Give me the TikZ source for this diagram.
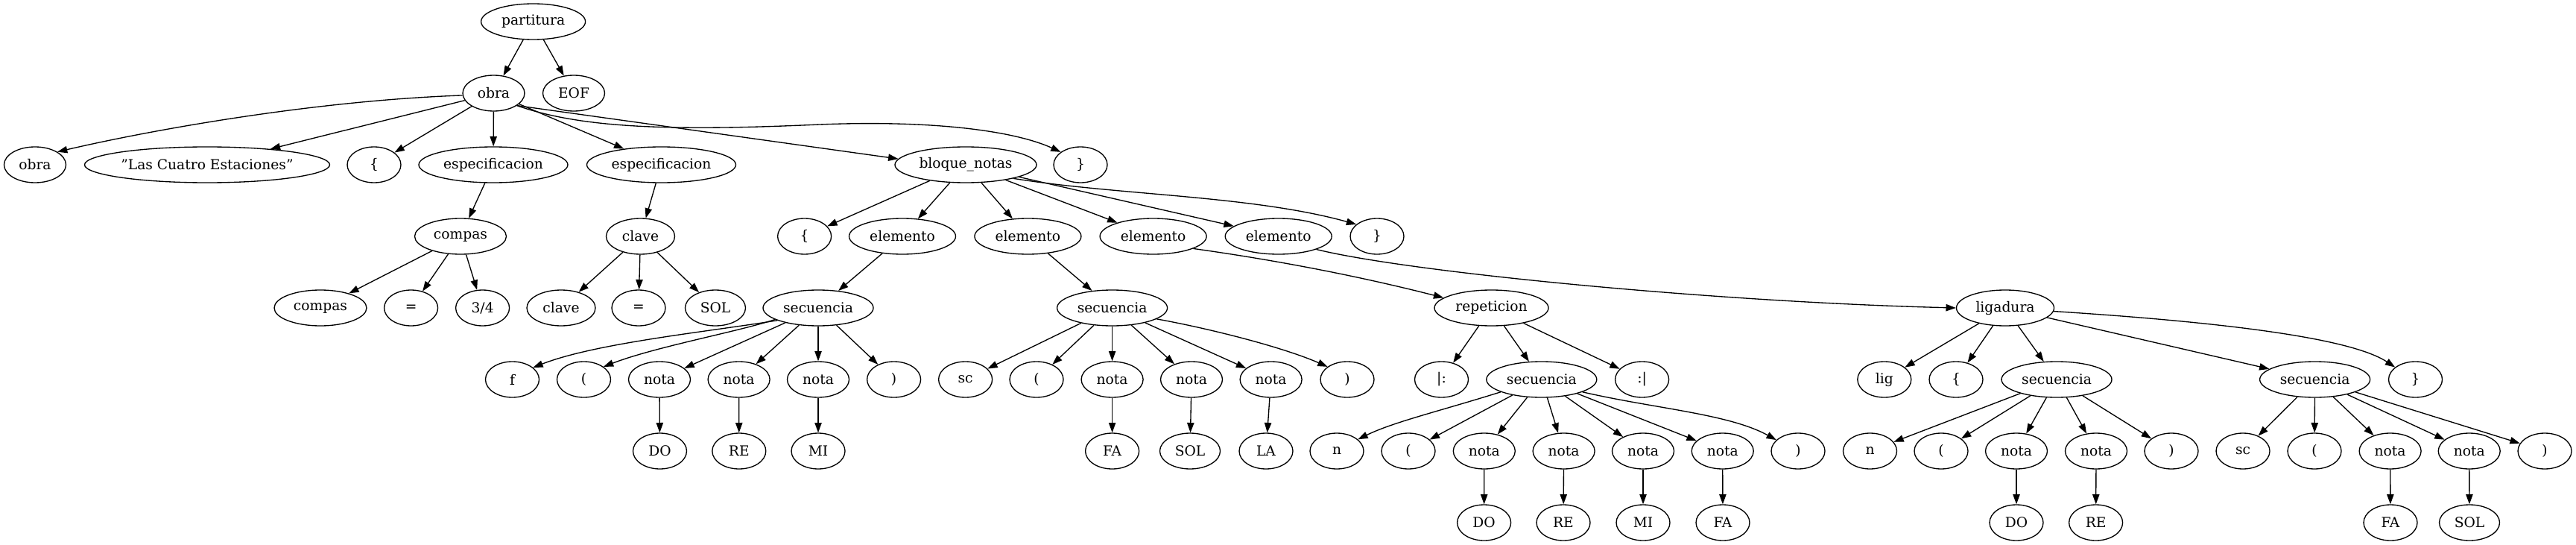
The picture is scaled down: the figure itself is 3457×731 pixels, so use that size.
\documentclass[tikz,border=0pt]{standalone}
\usepackage{fontspec}
\setmainfont{DejaVu Serif}
\usetikzlibrary{shapes.geometric,arrows.meta}
\begin{document}
\begin{tikzpicture}[x=0.75pt,y=-0.75pt,
  nd/.style={draw, ellipse, inner sep=0pt, minimum width=54pt, minimum height=36pt, line width=1pt, font=\fontsize{14pt}{16pt}\selectfont},
  wd/.style={minimum width=#1*0.75pt},
  arr/.style={-{Triangle[length=10pt,width=7pt]}, line width=1pt}]
\useasboundingbox (0,0) rectangle (3457,731);
% row 0
\node[nd,wd=140] (part) at (715.6,29) {partitura};
% row 1
\node[nd,wd=83] (o1) at (662.5,125) {obra};
\node[nd,wd=83] (eof) at (770,125) {EOF};
% row 2
\node[nd,wd=83] (ob2) at (47,221) {obra};
\node[nd,wd=329] (tit) at (278,221) {"Las Cuatro Estaciones"};
\node[nd] (lb2) at (502,221) {\{};
\node[nd,wd=200] (esp1) at (662,221) {especificacion};
\node[nd,wd=200] (esp2) at (887.5,221) {especificacion};
\node[nd,wd=190] (bn) at (1296,221) {bloque\_notas};
\node[nd] (rb2) at (1450,221) {\}};
% row 3
\node[nd,wd=123] (comp3) at (618,317) {compas};
\node[nd,wd=92] (clav3) at (859.5,317) {clave};
\node[nd] (lb3) at (1079.6,317) {\{};
\node[nd,wd=143] (el1) at (1211,317) {elemento};
\node[nd,wd=143] (el2) at (1379.4,317) {elemento};
\node[nd,wd=143] (el3) at (1547.6,317) {elemento};
\node[nd,wd=143] (el4) at (1715.7,317) {elemento};
\node[nd] (rb3) at (1848,317) {\}};
% row 4
\node[nd,wd=124] (comp4) at (430,413) {compas};
\node[nd] (eqa) at (551.6,413) {=};
\node[nd] (tq) at (647.6,413) {3/4};
\node[nd,wd=92] (clav4) at (753,413) {clave};
\node[nd] (eqb) at (857,413) {=};
\node[nd,wd=81] (sol4) at (960,413) {SOL};
\node[nd,wd=148] (s1) at (1098,413) {secuencia};
\node[nd,wd=148] (s2) at (1492.6,413) {secuencia};
\node[nd,wd=153] (rep) at (2001.5,413) {repeticion};
\node[nd,wd=131] (lg) at (2691,413) {ligadura};
% row 5
\node[nd] (f5) at (687.5,509) {f};
\node[nd] (lp5a) at (783.5,509) {(};
\node[nd,wd=83] (n5a) at (885,509) {nota};
\node[nd,wd=83] (n5b) at (991.6,509) {nota};
\node[nd,wd=83] (n5c) at (1098,509) {nota};
\node[nd] (rp5a) at (1199.6,509) {)};
\node[nd] (sc5) at (1295.6,509) {sc};
\node[nd] (lp5b) at (1391,509) {(};
\node[nd,wd=83] (n5d) at (1492.6,509) {nota};
\node[nd,wd=83] (n5e) at (1599,509) {nota};
\node[nd,wd=83] (n5f) at (1705.6,509) {nota};
\node[nd] (rp5b) at (1808,509) {)};
\node[nd] (rs) at (1934.5,509) {|:};
\node[nd,wd=148] (s3) at (2068.8,509) {secuencia};
\node[nd] (re) at (2203.6,509) {:|};
\node[nd] (lig) at (2528.8,509) {lig};
\node[nd] (lb5) at (2625,509) {\{};
\node[nd,wd=148] (s4) at (2760,509) {secuencia};
\node[nd,wd=148] (s5) at (3106.6,509) {secuencia};
\node[nd] (rb5) at (3241.5,509) {\}};
% row 6
\node[nd] (do6) at (885.5,605) {DO};
\node[nd] (re6) at (991.8,605) {RE};
\node[nd] (mi6) at (1098,605) {MI};
\node[nd] (fa6) at (1492.6,605) {FA};
\node[nd,wd=81] (sol6) at (1597,605) {SOL};
\node[nd] (la6) at (1699,605) {LA};
\node[nd] (nna) at (1794,605) {n};
\node[nd] (lp6a) at (1890,605) {(};
\node[nd,wd=83] (n6a) at (1991.8,605) {nota};
\node[nd,wd=83] (n6b) at (2098.6,605) {nota};
\node[nd,wd=83] (n6c) at (2205,605) {nota};
\node[nd,wd=83] (n6d) at (2311.7,605) {nota};
\node[nd] (rp6a) at (2413,605) {)};
\node[nd] (nnb) at (2509.5,605) {n};
\node[nd] (lp6b) at (2605,605) {(};
\node[nd,wd=83] (n6e) at (2706,605) {nota};
\node[nd,wd=83] (n6f) at (2813,605) {nota};
\node[nd] (rp6b) at (2914,605) {)};
\node[nd] (sc6) at (3010,605) {sc};
\node[nd] (lp6c) at (3106,605) {(};
\node[nd,wd=83] (n6g) at (3207.6,605) {nota};
\node[nd,wd=83] (n6h) at (3313.7,605) {nota};
\node[nd] (rp6c) at (3415,605) {)};
% row 7
\node[nd] (do7a) at (1991.6,701) {DO};
\node[nd] (re7a) at (2098,701) {RE};
\node[nd] (mi7) at (2205,701) {MI};
\node[nd] (fa7a) at (2312,701) {FA};
\node[nd] (do7b) at (2706,701) {DO};
\node[nd] (re7b) at (2812.6,701) {RE};
\node[nd] (fa7b) at (3208,701) {FA};
\node[nd,wd=81] (sol7) at (3314,701) {SOL};
% edges
\draw[arr] (part) -- (o1);
\draw[arr] (part) -- (eof);
\draw[arr] (o1.184) .. controls (420,135) and (200,175) .. (ob2.30);
\draw[arr] (o1) -- (tit);
\draw[arr] (o1) -- (lb2);
\draw[arr] (o1) -- (esp1);
\draw[arr] (o1) -- (esp2);
\draw[arr] (o1.-28) -- (bn.175);
\draw[arr] (o1.-28) .. controls (780,172) and (900,176) .. (1100,167) .. controls (1250,161) and (1360,175) .. (rb2.147);
\draw[arr] (esp1) -- (comp3);
\draw[arr] (esp2) -- (clav3);
\draw[arr] (comp3) -- (comp4);
\draw[arr] (comp3) -- (eqa);
\draw[arr] (comp3) -- (tq);
\draw[arr] (clav3) -- (clav4);
\draw[arr] (clav3) -- (eqb);
\draw[arr] (clav3) -- (sol4);
\draw[arr] (bn) -- (lb3);
\draw[arr] (bn) -- (el1);
\draw[arr] (bn) -- (el2);
\draw[arr] (bn) -- (el3);
\draw[arr] (bn) -- (el4);
\draw[arr] (bn.-16) .. controls (1500,262) and (1680,262) .. (rb3.150);
\draw[arr] (el1) -- (s1);
\draw[arr] (el2) -- (s2);
\draw[arr] (el3.-17) .. controls (1720,350) and (1830,372) .. (rep.168);
\draw[arr] (el4.-19) .. controls (1890,365) and (2300,405) .. (lg.180);
\draw[arr] (s1.197) .. controls (950,445) and (800,460) .. (f5.30);
\draw[arr] (s1.195) .. controls (990,445) and (880,465) .. (lp5a.33);
\draw[arr] (s1) -- (n5a);
\draw[arr] (s1) -- (n5b);
\draw[arr] (s1) -- (n5c);
\draw[arr] (s1) -- (rp5a);
\draw[arr] (n5a) -- (do6);
\draw[arr] (n5b) -- (re6);
\draw[arr] (n5c) -- (mi6);
\draw[arr] (s2) -- (sc5);
\draw[arr] (s2) -- (lp5b);
\draw[arr] (s2) -- (n5d);
\draw[arr] (s2) -- (n5e);
\draw[arr] (s2) -- (n5f);
\draw[arr] (s2.-14) .. controls (1620,440) and (1720,465) .. (rp5b.147);
\draw[arr] (n5d) -- (fa6);
\draw[arr] (n5e) -- (sol6);
\draw[arr] (n5f) -- (la6);
\draw[arr] (rep) -- (rs);
\draw[arr] (rep) -- (s3);
\draw[arr] (rep) -- (re);
\draw[arr] (s3.197) .. controls (1930,552) and (1870,566) .. (nna.29);
\draw[arr] (s3) -- (lp6a);
\draw[arr] (s3) -- (n6a);
\draw[arr] (s3) -- (n6b);
\draw[arr] (s3) -- (n6c);
\draw[arr] (s3) -- (n6d);
\draw[arr] (s3.-17) .. controls (2220,548) and (2320,555) .. (rp6a.153);
\draw[arr] (n6a) -- (do7a);
\draw[arr] (n6b) -- (re7a);
\draw[arr] (n6c) -- (mi7);
\draw[arr] (n6d) -- (fa7a);
\draw[arr] (lg) -- (lig);
\draw[arr] (lg) -- (lb5);
\draw[arr] (lg) -- (s4);
\draw[arr] (lg) -- (s5);
\draw[arr] (lg.-4) .. controls (2950,430) and (3150,450) .. (rb5.149);
\draw[arr] (s4) -- (nnb);
\draw[arr] (s4) -- (lp6b);
\draw[arr] (s4) -- (n6e);
\draw[arr] (s4) -- (n6f);
\draw[arr] (s4) -- (rp6b);
\draw[arr] (n6e) -- (do7b);
\draw[arr] (n6f) -- (re7b);
\draw[arr] (s5) -- (sc6);
\draw[arr] (s5) -- (lp6c);
\draw[arr] (s5) -- (n6g);
\draw[arr] (s5) -- (n6h);
\draw[arr] (s5) -- (rp6c);
\draw[arr] (n6g) -- (fa7b);
\draw[arr] (n6h) -- (sol7);
\end{tikzpicture}
\end{document}
